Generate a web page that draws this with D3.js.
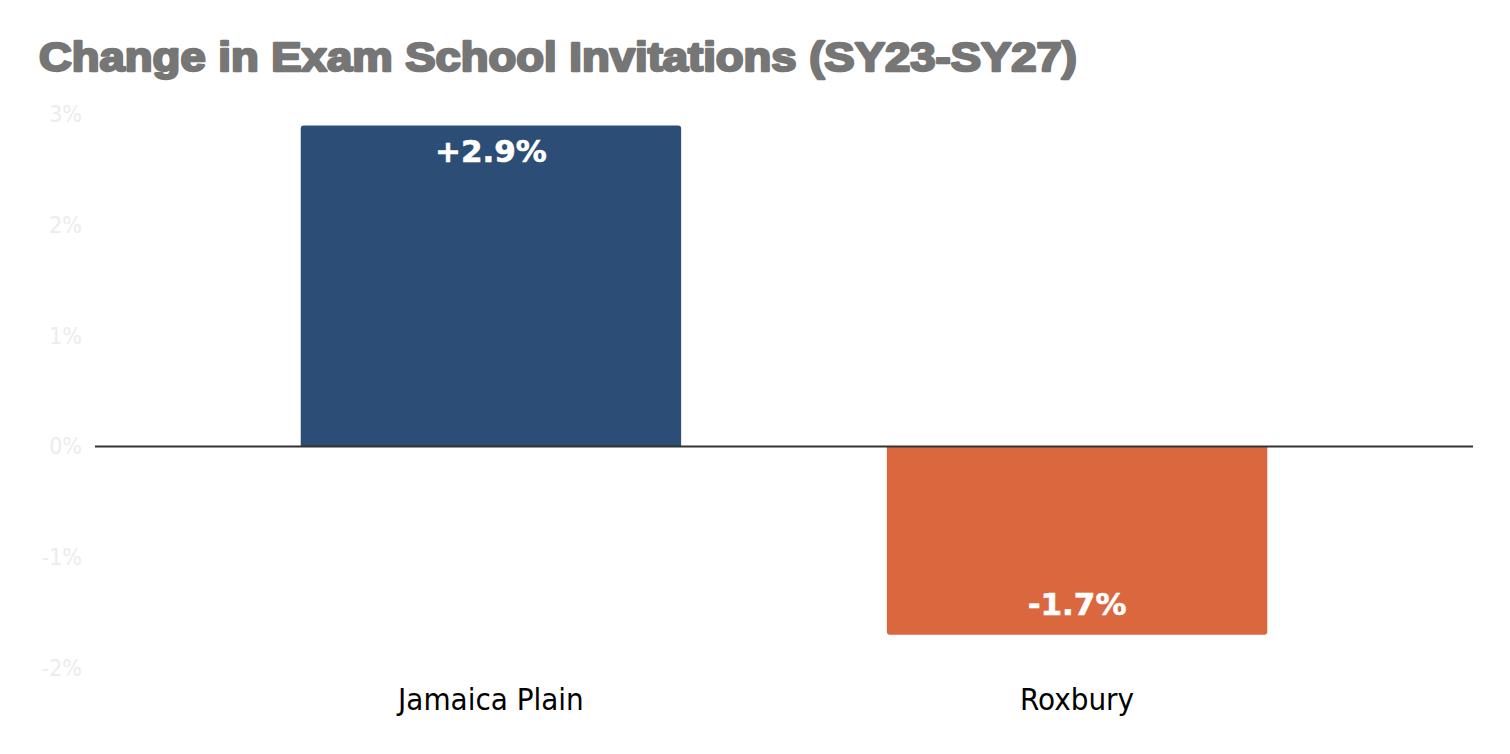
<!DOCTYPE html>
<html>
<head>
<meta charset="utf-8">
<script src="https://cdn.jsdelivr.net/npm/d3@7/dist/d3.min.js"></script>
<style>
  html, body { margin: 0; padding: 0; background: #ffffff; }
  svg { display: block; }
</style>
</head>
<body>
<svg id="chart" width="1510" height="754"></svg>
<script>
const titleText = "Change in Exam School Invitations (SY23-SY27)";
const categories = ["Jamaica Plain", "Roxbury"];
const values = [2.9, -1.7];
const valueLabels = ["+2.9%", "-1.7%"];
const barColors = ["#2c4d75", "#da673e"];
const yTicks = [-2, -1, 0, 1, 2, 3];

const svg = d3.select("#chart");

const x = d3.scaleBand().domain(categories).range([95, 1473]).padding(0.351);
const y = d3.scaleLinear().domain([-2, 3]).range([668, 114.4]);

// Title
svg.append("text")
  .attr("x", 39).attr("y", 71)
  .attr("font-family", "Liberation Sans, Arial, sans-serif")
  .attr("font-weight", "bold")
  .attr("font-size", 40)
  .attr("fill", "#767676")
  .attr("stroke", "#767676")
  .attr("stroke-width", 2.4)
  .attr("stroke-linejoin", "round")
  .attr("textLength", 1038)
  .attr("lengthAdjust", "spacingAndGlyphs")
  .text(titleText);

// Y axis labels (no line, no ticks)
const yAxis = d3.axisLeft(y).tickValues(yTicks).tickFormat(d => d + "%").tickSize(0).tickPadding(0);
const yg = svg.append("g").attr("transform", "translate(82,0)").call(yAxis);
yg.select(".domain").remove();
yg.selectAll("text")
  .attr("font-family", "DejaVu Sans Condensed, DejaVu Sans, sans-serif")
  .attr("font-stretch", "condensed")
  .attr("font-size", 23)
  .attr("fill", "#ececec");

// Bars with rounded outer corners
const r = 3;
function barPath(d, i) {
  const x0 = x(categories[i]), w = x.bandwidth();
  const y0 = y(0), y1 = y(d);
  if (d >= 0) {
    return `M${x0},${y0} L${x0},${y1 + r} Q${x0},${y1} ${x0 + r},${y1} L${x0 + w - r},${y1} Q${x0 + w},${y1} ${x0 + w},${y1 + r} L${x0 + w},${y0} Z`;
  } else {
    return `M${x0},${y0} L${x0},${y1 - r} Q${x0},${y1} ${x0 + r},${y1} L${x0 + w - r},${y1} Q${x0 + w},${y1} ${x0 + w},${y1 - r} L${x0 + w},${y0} Z`;
  }
}
svg.append("g").selectAll("path")
  .data(values)
  .join("path")
  .attr("d", barPath)
  .attr("fill", (d, i) => barColors[i]);

// Zero line
svg.append("line")
  .attr("x1", x.range()[0]).attr("x2", x.range()[1])
  .attr("y1", y(0)).attr("y2", y(0))
  .attr("stroke", "#333333")
  .attr("stroke-width", 2);

// Value labels
svg.append("g").selectAll("text")
  .data(values)
  .join("text")
  .attr("x", (d, i) => x(categories[i]) + x.bandwidth() / 2)
  .attr("y", d => d >= 0 ? y(d) + 37 : y(d) - 20)
  .attr("text-anchor", "middle")
  .attr("font-family", "DejaVu Sans, Verdana, sans-serif")
  .attr("font-weight", "bold")
  .attr("font-size", 31)
  .attr("fill", "#ffffff")
  .attr("stroke", "#ffffff")
  .attr("stroke-width", 0.6)
  .text((d, i) => valueLabels[i]);

// Category labels
svg.append("g").selectAll("text")
  .data(categories)
  .join("text")
  .attr("x", d => x(d) + x.bandwidth() / 2)
  .attr("y", 710)
  .attr("text-anchor", "middle")
  .attr("font-family", "DejaVu Sans Condensed, DejaVu Sans, sans-serif")
  .attr("font-stretch", "condensed")
  .attr("font-size", 31)
  .attr("fill", "#000000")
  .text(d => d);
</script>
</body>
</html>
